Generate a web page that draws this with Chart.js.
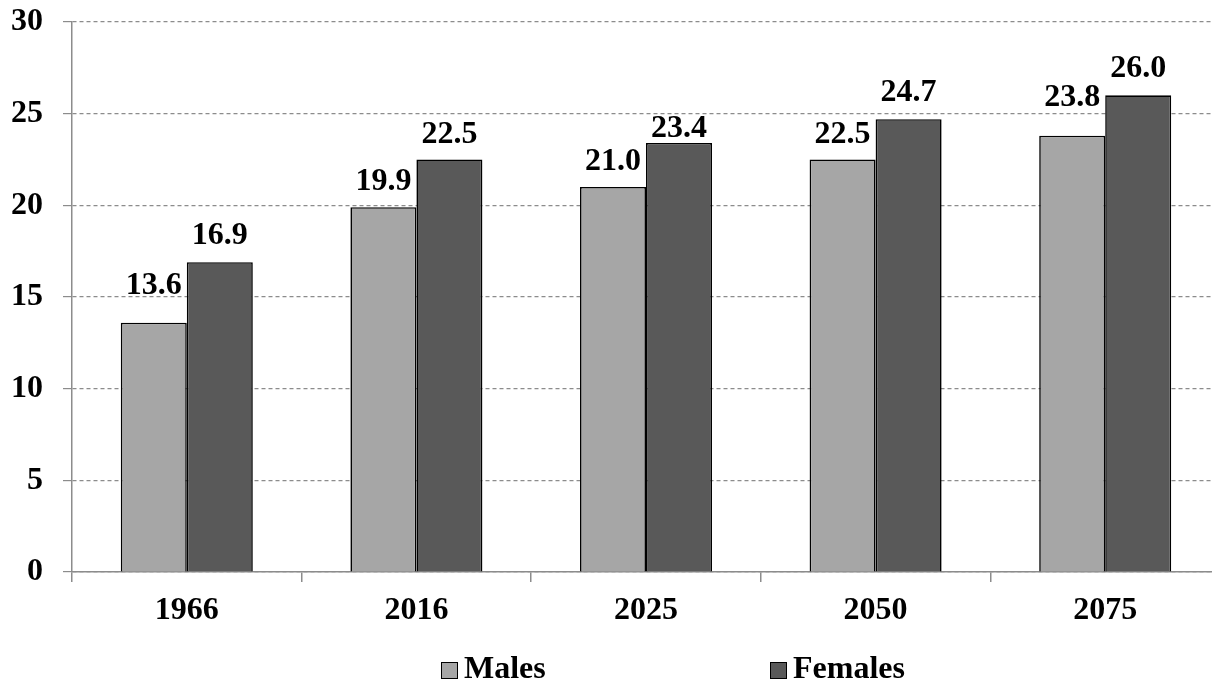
<!DOCTYPE html>
<html>
<head>
<meta charset="utf-8">
<script src="https://cdn.jsdelivr.net/npm/chart.js@4.4.1/dist/chart.umd.min.js"></script>
<style>
  html, body { margin: 0; padding: 0; background: #fff; overflow: hidden; }
  #wrap { position: relative; width: 1222px; height: 682px; }
  .legend { position: absolute; top: 651px; font: bold 32px "Liberation Serif", "Times New Roman", serif; color: #000; display: flex; align-items: center; line-height: 32px; }
  .legend i { display: inline-block; width: 15px; height: 15px; border: 1px solid #000; margin-right: 6px; margin-top: 6px; }
</style>
</head>
<body>
<div id="wrap">
  <canvas id="c" width="1222" height="682"></canvas>
  <div class="legend" style="left:441px"><i style="background:#a6a6a6"></i>Males</div>
  <div class="legend" style="left:770px"><i style="background:#595959"></i>Females</div>
</div>
<script>
// Life expectancy at age 65 (years), by sex
const years = ['1966', '2016', '2025', '2050', '2075'];
const males = [13.6, 19.9, 21.0, 22.5, 23.8];
const females = [16.9, 22.5, 23.4, 24.7, 26.0];
const yTicks = [0, 5, 10, 15, 20, 25, 30];

const FONT = '"Liberation Serif", "Times New Roman", serif';

// Value labels above each bar; lift = gap (px) from bar top to text baseline
const barValues = {
  id: 'barValues',
  afterDatasetsDraw(chart, args, opts) {
    const ctx = chart.ctx;
    ctx.save();
    ctx.font = 'bold 32px ' + FONT;
    ctx.fillStyle = '#000';
    ctx.textAlign = 'center';
    ctx.textBaseline = 'alphabetic';
    chart.data.datasets.forEach((ds, di) => {
      const meta = chart.getDatasetMeta(di);
      meta.data.forEach((bar, i) => {
        const lift = opts.lift[di][i];
        ctx.fillText(ds.data[i].toFixed(1), bar.x, bar.y - lift);
      });
    });
    ctx.restore();
  }
};

new Chart(document.getElementById('c'), {
  type: 'bar',
  data: {
    labels: years,
    datasets: [
      { label: 'Males', data: males, backgroundColor: '#a6a6a6', borderColor: '#000', borderWidth: 1.6 },
      { label: 'Females', data: females, backgroundColor: '#595959', borderColor: '#000', borderWidth: 1.6 }
    ]
  },
  options: {
    responsive: false,
    animation: false,
    datasets: { bar: { categoryPercentage: 0.575, barPercentage: 1.0 } },
    layout: { padding: { left: 12, right: 2, top: 22, bottom: 50 } },
    plugins: {
      legend: { display: false },
      tooltip: { enabled: false },
      barValues: { lift: [[29, 17, 17, 17, 30], [18, 17, 6, 18, 18]] }
    },
    scales: {
      x: {
        afterFit: s => { s.height = 60; s.paddingLeft = 0; s.paddingRight = 0; },
        grid: { display: true, drawOnChartArea: false, offset: true, tickLength: 10, color: '#8c8c8c', tickColor: '#8c8c8c', lineWidth: 1.5 },
        border: { display: true, color: '#8c8c8c', width: 1.5 },
        ticks: { color: '#000', padding: 10, font: { family: FONT, size: 32, weight: 'bold', lineHeight: 1.2 } }
      },
      y: {
        min: 0, max: 30,
        afterFit: s => { s.width = 60; s.paddingTop = 0; s.paddingBottom = 0; },
        afterBuildTicks: s => { s.ticks = yTicks.map(v => ({ value: v })); },
        grid: { color: '#8c8c8c', lineWidth: 1.2, tickLength: 9, tickColor: '#8c8c8c', tickBorderDash: [] },
        border: { display: true, color: '#8c8c8c', width: 1.5, dash: [4, 3] },
        ticks: { color: '#000', padding: 20, font: { family: FONT, size: 32, weight: 'bold' } }
      }
    }
  },
  plugins: [barValues]
});
</script>
</body>
</html>
